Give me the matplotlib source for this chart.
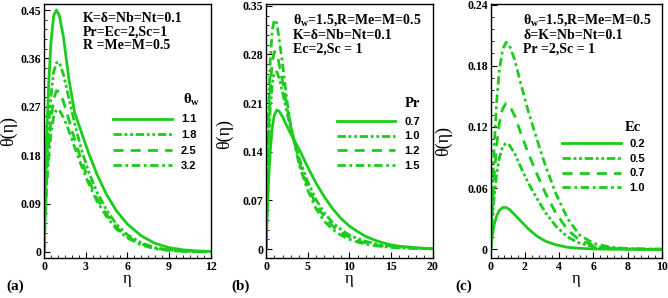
import numpy as np
import matplotlib.pyplot as plt
from matplotlib.ticker import AutoMinorLocator

plt.rcParams['font.family'] = 'serif'
plt.rcParams['font.serif'] = ['Liberation Serif', 'DejaVu Serif']

# ---------------- data ----------------
# (a) effect of theta_w
eta_a = [0, 0.1, 0.2, 0.35, 0.5, 0.7, 0.9, 1.1, 1.4, 1.8, 2.2, 2.7, 3.2, 3.8,
         4.5, 5.2, 6, 7, 8, 9, 10, 11, 12]
tw_labels = ['1.1', '1.8', '2.5', '3.2']
theta_a_11 = [0, 0.12, 0.22, 0.32, 0.39, 0.44, 0.45, 0.44, 0.40, 0.32, 0.26, 0.222,
              0.185, 0.145, 0.107, 0.077, 0.052, 0.030, 0.016, 0.008, 0.004, 0.002, 0.001]
theta_a_18 = [0, 0.09, 0.16, 0.24, 0.29, 0.335, 0.352, 0.353, 0.33, 0.285, 0.24, 0.19,
              0.15, 0.112, 0.078, 0.052, 0.032, 0.017, 0.008, 0.004, 0.002, 0.001, 0.0005]
theta_a_25 = [0, 0.08, 0.14, 0.20, 0.245, 0.285, 0.30, 0.298, 0.28, 0.245, 0.21, 0.17,
              0.135, 0.10, 0.07, 0.046, 0.028, 0.015, 0.007, 0.003, 0.0015, 0.0007, 0.0003]
theta_a_32 = [0, 0.07, 0.125, 0.18, 0.22, 0.252, 0.265, 0.264, 0.25, 0.225, 0.195, 0.16,
              0.128, 0.095, 0.066, 0.043, 0.026, 0.013, 0.006, 0.003, 0.0013, 0.0006, 0.0003]

# (b) effect of Pr
eta_b = [0, 0.15, 0.3, 0.5, 0.75, 1.0, 1.3, 1.6, 2.0, 2.5, 3, 4, 5, 6, 7, 8, 9, 10,
         11, 12, 13, 14, 15, 16, 17, 18, 19, 20]
pr_labels = ['0.7', '1.0', '1.2', '1.5']
theta_b_07 = [0, 0.05, 0.095, 0.14, 0.175, 0.193, 0.200, 0.198, 0.190, 0.177, 0.165,
              0.143, 0.118, 0.095, 0.075, 0.058, 0.044, 0.033, 0.025, 0.018, 0.013,
              0.009, 0.006, 0.004, 0.003, 0.002, 0.001, 0.0005]
theta_b_10 = [0, 0.075, 0.14, 0.20, 0.238, 0.253, 0.255, 0.245, 0.225, 0.197, 0.172,
              0.13, 0.097, 0.071, 0.052, 0.038, 0.028, 0.02, 0.015, 0.011, 0.008,
              0.0055, 0.004, 0.0028, 0.002, 0.0014, 0.001, 0.0006]
theta_b_12 = [0, 0.085, 0.16, 0.23, 0.27, 0.284, 0.282, 0.265, 0.24, 0.205, 0.175,
              0.125, 0.09, 0.064, 0.046, 0.033, 0.024, 0.017, 0.012, 0.0085, 0.006,
              0.004, 0.003, 0.002, 0.0014, 0.001, 0.0006, 0.0004]
theta_b_15 = [0, 0.10, 0.19, 0.27, 0.315, 0.330, 0.325, 0.30, 0.265, 0.215, 0.175,
              0.12, 0.085, 0.058, 0.040, 0.028, 0.02, 0.014, 0.01, 0.007, 0.005,
              0.0035, 0.0025, 0.0017, 0.0012, 0.0008, 0.0005, 0.0003]

# (c) effect of Ec
eta_c = [0, 0.1, 0.2, 0.35, 0.5, 0.7, 0.9, 1.1, 1.4, 1.8, 2.2, 2.7, 3.2, 3.8, 4.5,
         5.2, 6, 7, 8, 9, 10]
ec_labels = ['0.2', '0.5', '0.7', '1.0']
theta_c_02 = [0, 0.014, 0.024, 0.033, 0.038, 0.041, 0.041, 0.039, 0.034, 0.027, 0.020,
              0.013, 0.008, 0.0045, 0.002, 0.001, 0.0004, 0.0001, 0, 0, 0]
theta_c_05 = [0, 0.03, 0.051, 0.074, 0.089, 0.101, 0.104, 0.102, 0.094, 0.079, 0.065,
              0.050, 0.036, 0.023, 0.012, 0.006, 0.0025, 0.001, 0.0004, 0.0001, 0]
theta_c_07 = [0, 0.042, 0.071, 0.102, 0.123, 0.138, 0.143, 0.141, 0.131, 0.112, 0.094,
              0.074, 0.055, 0.036, 0.019, 0.009, 0.004, 0.0015, 0.0005, 0.0002, 0.0001]
theta_c_10 = [0, 0.06, 0.10, 0.145, 0.175, 0.196, 0.203, 0.200, 0.186, 0.160, 0.135,
              0.108, 0.082, 0.055, 0.030, 0.014, 0.006, 0.002, 0.0008, 0.0003, 0.0001]

# ---------------- styling ----------------
green = '#1ccc1c'
styles = ['-', (0, (3, 1, 1, 1, 1, 1)), (0, (3.6, 2.6)), (0, (3, 1.3, 1, 1.3))]

fig = plt.figure(figsize=(6.68, 2.98), dpi=100)
ax_a = fig.add_axes([44 / 668, 40 / 298, 166.7 / 668, 254 / 298])
ax_b = fig.add_axes([266 / 668, 40 / 298, 166.7 / 668, 254 / 298])
ax_c = fig.add_axes([490.7 / 668, 40 / 298, 171 / 668, 254 / 298])


def panel(ax, eta, curves, labels, xlim, ylim, xticks, yticks, nminor_x,
          title, title_pos, note, note_x, leg_anchor, leg_space, ylab_pos, tag, tag_x):
    for y, lab, ls in zip(curves, labels, styles):
        ax.plot(eta, y, color=green, lw=2.0, linestyle=ls, label=lab)
    ax.set_xlim(xlim)
    ax.set_ylim(ylim)
    ax.set_xticks(xticks, [str(t) for t in xticks])
    ax.set_yticks(yticks, ['0'] + ['%.2f' % t for t in yticks[1:]])
    ax.xaxis.set_minor_locator(AutoMinorLocator(nminor_x))
    ax.yaxis.set_minor_locator(AutoMinorLocator(5))
    ax.tick_params(which='both', direction='in', top=False, right=False,
                   labelsize=8.5, pad=2)
    ax.tick_params(which='major', length=4, width=0.8)
    ax.tick_params(which='minor', length=2, width=0.6)
    for t in ax.get_xticklabels() + ax.get_yticklabels():
        t.set_fontweight('bold')
    for s in ax.spines.values():
        s.set_linewidth(1.0)
    ax.set_xlabel('η', fontsize=12, labelpad=-1)
    ax.set_ylabel('θ(η)', fontsize=13)
    ax.yaxis.set_label_coords(*ylab_pos)
    ax.text(note_x, 0.969, note, transform=ax.transAxes, fontsize=10,
            fontweight='bold', va='top', ha='left', linespacing=1.08)
    ax.legend(loc='upper left', bbox_to_anchor=leg_anchor, frameon=False,
              handlelength=5.3, handletextpad=0.8, labelspacing=leg_space,
              borderpad=0, borderaxespad=0,
              prop={'family': 'Liberation Sans', 'weight': 'bold', 'size': 8})
    ax.text(title_pos[0], title_pos[1], title, transform=ax.transAxes,
            fontsize=10.5, fontweight='bold', va='center', ha='left')
    fig.text(tag_x, 12 / 298, tag, fontsize=11, fontweight='bold', va='center')


panel(ax_a, eta_a, [theta_a_11, theta_a_18, theta_a_25, theta_a_32], tw_labels,
      (0, 12), (-0.0112, 0.4612), [0, 3, 6, 9, 12],
      [0, 0.09, 0.18, 0.27, 0.36, 0.45], 6,
      'θ$_\\mathregular{w}$', (0.832, 0.625),
      'K=δ=Nb=Nt=0.1\nPr=Ec=2,Sc=1\nR =Me=M=0.5', 0.234,
      (0.416, 0.565), 0.5, (-0.16, 0.5), '(a)', 6 / 668)

panel(ax_b, eta_b, [theta_b_07, theta_b_10, theta_b_12, theta_b_15], pr_labels,
      (0, 20), (-0.0129, 0.3526), [0, 5, 10, 15, 20],
      [0, 0.07, 0.14, 0.21, 0.28, 0.35], 5,
      'Pr', (0.834, 0.608),
      'θ$_\\mathregular{w}$=1.5,R=Me=M=0.5\nK=δ=Nb=Nt=0.1\nEc=2,Sc = 1', 0.16,
      (0.423, 0.556), 0.42, (-0.195, 0.49), '(b)', 231 / 668)

panel(ax_c, eta_c, [theta_c_02, theta_c_05, theta_c_07, theta_c_10], ec_labels,
      (0, 10), (-0.0085, 0.2405), [0, 2, 4, 6, 8, 10],
      [0, 0.06, 0.12, 0.18, 0.24], 5,
      'Ec', (0.785, 0.515),
      'θ$_\\mathregular{w}$=1.5,R=Me=M=0.5\nδ=K=Nb=Nt=0.1\nPr =2,Sc = 1', 0.19,
      (0.415, 0.468), 0.42, (-0.226, 0.46), '(c)', 455 / 668)

fig.savefig('out.png', dpi=100)
